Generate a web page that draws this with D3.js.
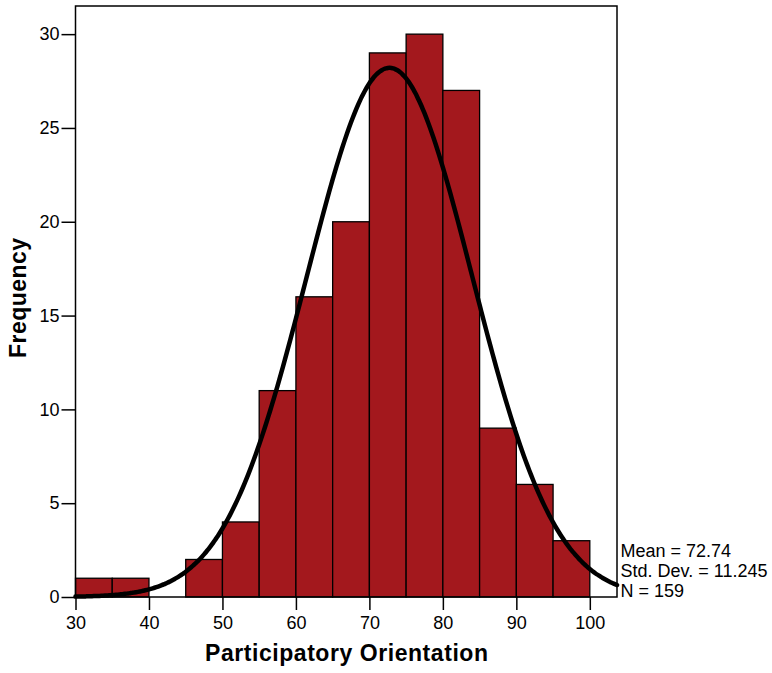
<!DOCTYPE html>
<html>
<head>
<meta charset="utf-8">
<script src="https://cdn.jsdelivr.net/npm/d3@7"></script>
<style>
  body { margin: 0; background: #fff; }
  svg text { font-family: "Liberation Sans", Arial, sans-serif; }
</style>
</head>
<body>
<script>
// histogram bins (lower edge), width 5
const binStarts = [30, 35, 40, 45, 50, 55, 60, 65, 70, 75, 80, 85, 90, 95]
const binCounts = [1, 1, 0, 2, 4, 11, 16, 20, 29, 30, 27, 9, 6, 3]
const xTicks = [30, 40, 50, 60, 70, 80, 90, 100]
const yTicks = [0, 5, 10, 15, 20, 25, 30]
const statLabels = ["Mean = 72.74", "Std. Dev. = 11.245", "N = 159"]
const mean = 72.74, sd = 11.245, n = 159, binWidth = 5

const width = 772, height = 673
const margin = {left: 75.5, top: 6, right: 155, bottom: 76}

const svg = d3.select('body').append('svg')
  .attr('width', width).attr('height', height)

const xScale = d3.scaleLinear().domain([30, 103.7]).range([margin.left, width - margin.right])
const yScale = d3.scaleLinear().domain([0, 31.5]).range([height - margin.bottom, margin.top])

// bars
svg.append('g').selectAll('rect').data(binStarts).enter().append('rect')
  .attr('x', (d) => xScale(d))
  .attr('width', (d) => xScale(d + binWidth) - xScale(d))
  .attr('y', (d, i) => yScale(binCounts[i]))
  .attr('height', (d, i) => yScale(0) - yScale(binCounts[i]))
  .attr('fill', '#a3181d')
  .attr('stroke', '#000')
  .attr('stroke-width', 1.3)
  .style('display', (d, i) => binCounts[i] > 0 ? null : 'none')

// fitted normal curve from the shown mean / sd / N
const curveXs = d3.range(30, 103.7, 0.25).concat([103.7])
const line = d3.line()
  .x((d) => xScale(d))
  .y((d) => yScale(n * binWidth * Math.exp(-0.5 * ((d - mean) / sd) ** 2) / (sd * Math.sqrt(2 * Math.PI))))
  .curve(d3.curveBasis)
svg.append('path').datum(curveXs).attr('d', line)
  .attr('fill', 'none').attr('stroke', '#000').attr('stroke-width', 4.5)
  .attr('stroke-linejoin', 'round').attr('stroke-linecap', 'round')

// frame
svg.append('rect')
  .attr('x', xScale.range()[0]).attr('y', yScale.range()[1])
  .attr('width', xScale.range()[1] - xScale.range()[0])
  .attr('height', yScale.range()[0] - yScale.range()[1])
  .attr('fill', 'none').attr('stroke', '#000').attr('stroke-width', 1.5)

// axes
const xAxis = d3.axisBottom(xScale).tickValues(xTicks).tickSize(13).tickPadding(6)
const yAxis = d3.axisLeft(yScale).tickValues(yTicks).tickSize(14).tickPadding(2)
const gx = svg.append('g').attr('transform', `translate(0, ${yScale(0)})`).call(xAxis)
const gy = svg.append('g').attr('transform', `translate(${xScale(30)}, 0)`).call(yAxis)
;[gx, gy].forEach(g => {
  g.select('.domain').remove()
  g.selectAll('.tick line').attr('stroke', '#000').attr('stroke-width', 1.5)
  g.selectAll('.tick text').attr('fill', '#000').style('font-size', '18px')
})

// axis titles
svg.append('text')
  .attr('x', 346.5).attr('y', 661)
  .attr('text-anchor', 'middle').style('font-size', '23px').style('font-weight', 'bold')
  .attr('textLength', 283).attr('lengthAdjust', 'spacing')
  .text('Participatory Orientation')
svg.append('text')
  .attr('transform', 'translate(25.5, 298) rotate(-90)')
  .attr('text-anchor', 'middle').style('font-size', '23px').style('font-weight', 'bold')
  .attr('textLength', 120).attr('lengthAdjust', 'spacing')
  .text('Frequency')

// stats block
svg.append('g').selectAll('text').data(statLabels).enter().append('text')
  .attr('x', 620.5).attr('y', (d, i) => 556.7 + i * 20)
  .style('font-size', '18px').attr('fill', '#000')
  .text((d) => d)
</script>
</body>
</html>
